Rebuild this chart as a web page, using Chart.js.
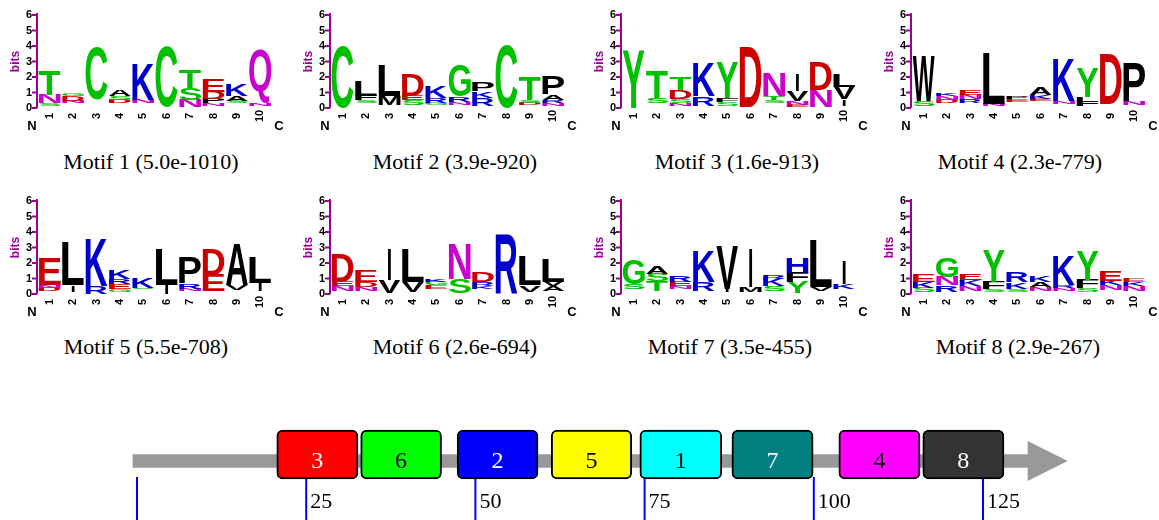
<!DOCTYPE html>
<html>
<head>
<meta charset="utf-8">
<script src="https://cdn.jsdelivr.net/npm/chart.js@4.4.0/dist/chart.umd.min.js"></script>
<style>
  body { margin: 0; background: #fff; width: 1159px; height: 520px; position: relative; overflow: hidden; }
  canvas { position: absolute; }
  .cap { position: absolute; width: 300px; line-height: 26px; text-align: center;
         font: 22px "Liberation Serif", "Times New Roman", serif; color: #000; }
</style>
</head>
<body>
<script>
// Datos de los logos: cada columna va de abajo hacia arriba, [letra, bits]
// ' ' = hueco sin letra visible
const positions = ['1', '2', '3', '4', '5', '6', '7', '8', '9', '10'];
const bitTicks = [0, 1, 2, 3, 4, 5, 6];

const motif1 = [
  [[' ', 0.15], ['S', 0.17], ['N', 0.54], ['T', 1.56]],
  [[' ', 0.3], ['N', 0.15], ['D', 0.3], ['G', 0.15]],
  [[' ', 0.53], ['C', 3.43]],
  [[' ', 0.3], ['D', 0.2], ['S', 0.25], ['A', 0.38]],
  [[' ', 0.3], ['N', 0.23], ['K', 2.37]],
  [[' ', 0.06], ['C', 3.94]],
  [[' ', 0.06], ['N', 0.47], ['S', 0.75], ['T', 1.18]],
  [[' ', 0.15], ['N', 0.15], ['P', 0.3], ['D', 0.45], ['E', 0.81]],
  [[' ', 0.3], ['S', 0.15], ['A', 0.3], ['K', 0.75]],
  [[' ', 0.1], ['N', 0.2], ['Q', 3.45]]
];
const motif2 = [
  [['C', 3.96]],
  [[' ', 0.35], ['S', 0.15], ['F', 0.3], ['L', 1.0]],
  [[' ', 0.2], ['M', 0.55], ['L', 1.97]],
  [[' ', 0.2], ['S', 0.3], ['E', 0.3], ['D', 1.4]],
  [[' ', 0.2], ['G', 0.15], ['R', 0.3], ['K', 0.78]],
  [[' ', 0.2], ['N', 0.2], ['R', 0.35], ['G', 2.03]],
  [[' ', 0.15], ['R', 0.49], ['K', 0.43], ['P', 0.6]],
  [['C', 4.1]],
  [[' ', 0.2], ['D', 0.15], ['S', 0.18], ['T', 1.47]],
  [[' ', 0.15], ['N', 0.2], ['R', 0.18], ['A', 0.33], ['P', 1.14]]
];
const motif3 = [
  [['Y', 3.75]],
  [[' ', 0.3], ['S', 0.3], ['T', 1.82]],
  [[' ', 0.1], ['N', 0.2], ['S', 0.28], ['D', 0.6], ['T', 0.82]],
  [[' ', 0.15], ['R', 0.6], ['K', 2.18]],
  [[' ', 0.15], ['S', 0.25], ['F', 0.24], ['Y', 2.29]],
  [[' ', 0.06], ['D', 3.84]],
  [[' ', 0.3], ['S', 0.2], ['T', 0.25], ['N', 1.5]],
  [[' ', 0.05], ['E', 0.15], ['N', 0.23], ['V', 0.64], ['I', 1.07]],
  [[' ', 0.06], ['N', 1.12], ['D', 1.82]],
  [[' ', 0.1], ['I', 0.45], ['V', 0.8], ['L', 0.79]]
];
const motif4 = [
  [[' ', 0.1], ['S', 0.32], ['W', 2.85]],
  [[' ', 0.3], ['D', 0.2], ['N', 0.25], ['K', 0.2]],
  [[' ', 0.3], ['R', 0.25], ['N', 0.3], ['E', 0.3]],
  [[' ', 0.1], ['N', 0.15], ['L', 3.28]],
  [[' ', 0.4], ['E', 0.15], ['P', 0.18]],
  [[' ', 0.45], ['E', 0.15], ['K', 0.25], ['A', 0.53]],
  [[' ', 0.25], ['N', 0.17], ['K', 2.73]],
  [[' ', 0.1], ['F', 0.3], ['L', 0.3], ['Y', 1.9]],
  [[' ', 0.25], ['D', 3.25]],
  [[' ', 0.2], ['N', 0.22], ['P', 2.53]]
];
const motif5 = [
  [[' ', 0.2], ['D', 0.2], ['N', 0.2], ['E', 1.73]],
  [[' ', 0.15], ['I', 0.45], ['L', 2.81]],
  [['R', 0.5], ['K', 3.13]],
  [[' ', 0.15], ['G', 0.2], ['E', 0.3], ['R', 0.35], ['K', 0.54]],
  [[' ', 0.3], ['S', 0.1], ['K', 0.65]],
  [['I', 0.6], ['L', 2.27]],
  [[' ', 0.2], ['N', 0.15], ['R', 0.36], ['P', 1.66]],
  [[' ', 0.17], ['E', 1.08], ['D', 1.62]],
  [[' ', 0.25], ['V', 0.35], ['A', 2.7]],
  [[' ', 0.17], ['I', 0.54], ['L', 1.62]]
];
const motif6 = [
  [[' ', 0.2], ['N', 0.3], ['E', 0.3], ['D', 1.8]],
  [[' ', 0.2], ['N', 0.25], ['D', 0.3], ['E', 0.75]],
  [[' ', 0.05], ['V', 0.85], ['I', 2.0]],
  [[' ', 0.15], ['V', 0.65], ['L', 2.1]],
  [[' ', 0.3], ['E', 0.25], ['G', 0.25], ['K', 0.2]],
  [[' ', 0.05], ['S', 0.95], ['N', 2.23]],
  [[' ', 0.3], ['K', 0.2], ['R', 0.25], ['D', 0.68]],
  [[' ', 0.05], ['R', 3.82]],
  [[' ', 0.15], ['V', 0.42], ['L', 1.93]],
  [[' ', 0.2], ['A', 0.3], ['V', 0.3], ['L', 1.48]]
];
const motif7 = [
  [[' ', 0.3], ['S', 0.34], ['G', 1.6]],
  [[' ', 0.2], ['T', 0.64], ['S', 0.48], ['A', 0.52]],
  [[' ', 0.3], ['N', 0.2], ['E', 0.3], ['R', 0.37]],
  [[' ', 0.2], ['R', 0.55], ['K', 2.03]],
  [[' ', 0.15], ['I', 0.15], ['V', 2.8]],
  [[' ', 0.1], ['M', 0.33], ['I', 2.53]],
  [[' ', 0.2], ['S', 0.3], ['K', 0.46], ['R', 0.21]],
  [[' ', 0.04], ['Y', 0.71], ['F', 0.63], ['H', 1.02]],
  [[' ', 0.2], ['V', 0.23], ['L', 3.07]],
  [[' ', 0.3], ['K', 0.34], ['I', 1.49]]
];
const motif8 = [
  [[' ', 0.1], ['S', 0.3], ['K', 0.4], ['E', 0.5]],
  [[' ', 0.15], ['R', 0.4], ['N', 0.55], ['G', 1.3]],
  [[' ', 0.2], ['N', 0.3], ['K', 0.4], ['E', 0.42]],
  [[' ', 0.1], ['S', 0.2], ['F', 0.5], ['Y', 2.05]],
  [[' ', 0.15], ['S', 0.2], ['K', 0.4], ['R', 0.67]],
  [[' ', 0.2], ['N', 0.25], ['A', 0.35], ['K', 0.4]],
  [[' ', 0.2], ['N', 0.2], ['R', 0.17], ['K', 1.93]],
  [[' ', 0.1], ['S', 0.26], ['F', 0.54], ['Y', 1.85]],
  [[' ', 0.25], ['N', 0.3], ['K', 0.3], ['E', 0.68]],
  [[' ', 0.2], ['N', 0.3], ['K', 0.25], ['E', 0.25]]
];
const motifs = [motif1, motif2, motif3, motif4, motif5, motif6, motif7, motif8];
const motifTitles = ['Motif 1 (5.0e-1010)', 'Motif 2 (3.9e-920)', 'Motif 3 (1.6e-913)', 'Motif 4 (2.3e-779)',
                     'Motif 5 (5.5e-708)', 'Motif 6 (2.6e-694)', 'Motif 7 (3.5e-455)', 'Motif 8 (2.9e-267)'];

// Datos del mapa de motivos
const mapTicks = [0, 25, 50, 75, 100, 125];
const boxLabels = ['3', '6', '2', '5', '1', '7', '4', '8'];
const boxStart = [20.65, 33.05, 47.3, 61.2, 74.3, 87.9, 103.7, 116.1];
const boxEnd = [32.65, 45.0, 59.25, 73.1, 86.4, 99.9, 115.7, 128.1];
const backbone = [-0.6, 131.6];
const arrowTip = 137.5;

const boxColors = ['#FF0000', '#00FF00', '#0000FF', '#FFFF00', '#00FFFF', '#008080', '#FF00FF', '#333333'];
const boxTextColors = ['#fff', '#000', '#fff', '#000', '#000', '#fff', '#000', '#fff'];

// Colores de aminoacidos
function letterColor(ch) {
  if ('GSTYC'.includes(ch)) return '#00C000';
  if ('KRH'.includes(ch)) return '#0000CC';
  if ('DE'.includes(ch)) return '#CC0000';
  if ('NQ'.includes(ch)) return '#CC00CC';
  return '#000000';
}

// Dibuja una letra estirada dentro de un rectangulo
function drawGlyph(ctx, ch, x, y, w, h) {
  if (ch === ' ' || h < 0.4 || w < 0.4) return;
  // la I es un trazo fino, no se estira a todo el ancho
  if (ch === 'I') {
    const nw = Math.max(2, w * 0.14);
    x = x + (w - nw) / 2;
    w = nw;
  }
  ctx.save();
  ctx.font = 'bold 100px "Liberation Sans", Arial, sans-serif';
  ctx.textAlign = 'left';
  ctx.textBaseline = 'alphabetic';
  const m = ctx.measureText(ch);
  const gw = m.actualBoundingBoxLeft + m.actualBoundingBoxRight;
  const gh = m.actualBoundingBoxAscent + m.actualBoundingBoxDescent;
  ctx.translate(x, y);
  ctx.scale(w / gw, h / gh);
  ctx.fillStyle = letterColor(ch);
  ctx.fillText(ch, m.actualBoundingBoxLeft, m.actualBoundingBoxAscent);
  ctx.restore();
}

const purple = '#990099';

const logoPlugin = {
  id: 'logo',
  afterDatasetsDraw(chart) {
    const ctx = chart.ctx;
    chart.data.datasets.forEach((ds, d) => {
      const meta = chart.getDatasetMeta(d);
      meta.data.forEach((bar, i) => {
        const p = bar.getProps(['x', 'y', 'base', 'width']);
        const top = Math.min(p.y, p.base);
        const h = Math.abs(p.base - p.y);
        drawGlyph(ctx, ds.letters[i], p.x - p.width / 2, top, p.width, h);
      });
    });
  },
  afterDraw(chart) {
    const ctx = chart.ctx;
    const a = chart.chartArea;
    const ys = chart.scales.y;
    const xs = chart.scales.x;
    ctx.save();
    // eje vertical
    ctx.strokeStyle = purple;
    ctx.lineWidth = 2;
    ctx.beginPath();
    ctx.moveTo(a.left - 1, a.top - 2);
    ctx.lineTo(a.left - 1, a.bottom);
    ctx.stroke();
    ctx.font = 'bold 11px "Liberation Sans", Arial, sans-serif';
    ctx.textAlign = 'right';
    ctx.textBaseline = 'middle';
    bitTicks.forEach(v => {
      const py = ys.getPixelForValue(v);
      ctx.beginPath();
      ctx.moveTo(a.left - 6, py);
      ctx.lineTo(a.left - 1, py);
      ctx.stroke();
      ctx.fillStyle = '#000';
      ctx.fillText(String(v), a.left - 6, py);
    });
    // etiqueta "bits"
    ctx.save();
    ctx.translate(a.left - 22, (a.top + a.bottom) / 2);
    ctx.rotate(-Math.PI / 2);
    ctx.textAlign = 'center';
    ctx.fillStyle = purple;
    ctx.font = 'bold 12px "Liberation Sans", Arial, sans-serif';
    ctx.fillText('bits', 0, 0);
    ctx.restore();
    // numeros de posicion (rotados)
    ctx.fillStyle = '#000';
    positions.forEach((lab, i) => {
      ctx.save();
      ctx.translate(xs.getPixelForValue(i), a.bottom + 8);
      ctx.rotate(-Math.PI / 2);
      ctx.textAlign = 'center';
      ctx.fillText(lab, 0, 0);
      ctx.restore();
    });
    ctx.font = 'bold 13px "Liberation Sans", Arial, sans-serif';
    ctx.textAlign = 'center';
    ctx.fillText('N', a.left - 6, a.bottom + 18);
    ctx.fillText('C', a.right + 7, a.bottom + 18);
    ctx.restore();
  }
};

const logoLeft = [0, 293, 584, 874];
const logoTop = [0, 186];
const capCenter = [151, 455, 737, 1020, 146, 455, 730, 1018];
const capY = [162, 347];

motifs.forEach((cols, m) => {
  const row = Math.floor(m / 4), col = m % 4;
  const canvas = document.createElement('canvas');
  canvas.width = 290;
  canvas.height = 135;
  canvas.style.left = logoLeft[col] + 'px';
  canvas.style.top = logoTop[row] + 'px';
  document.body.appendChild(canvas);

  const depth = Math.max(...cols.map(c => c.length));
  const datasets = [];
  for (let k = 0; k < depth; k++) {
    datasets.push({
      data: cols.map(c => c[k] ? c[k][1] : 0),
      letters: cols.map(c => c[k] ? c[k][0] : ' '),
      backgroundColor: 'rgba(0,0,0,0)',
      borderWidth: 0,
      categoryPercentage: 1,
      barPercentage: 0.94
    });
  }

  new Chart(canvas, {
    type: 'bar',
    data: { labels: positions, datasets: datasets },
    options: {
      responsive: false,
      animation: false,
      devicePixelRatio: 1,
      layout: { padding: { left: 38, right: 18, top: 15, bottom: 27 } },
      scales: {
        x: { stacked: true, display: false },
        y: { stacked: true, min: 0, max: 6, display: false }
      },
      plugins: { legend: { display: false }, tooltip: { enabled: false } }
    },
    plugins: [logoPlugin]
  });

  const cap = document.createElement('div');
  cap.className = 'cap';
  cap.textContent = motifTitles[m];
  cap.style.left = (capCenter[m] - 150) + 'px';
  cap.style.top = (capY[row] - 13) + 'px';
  document.body.appendChild(cap);
});

// Mapa de motivos sobre la secuencia
const mapPlugin = {
  id: 'map',
  beforeDatasetsDraw(chart) {
    const ctx = chart.ctx;
    const xs = chart.scales.x;
    const yc = chart.scales.y.getPixelForValue(0);
    ctx.save();
    ctx.strokeStyle = '#0000FF';
    ctx.lineWidth = 2;
    ctx.fillStyle = '#000';
    ctx.font = '22px "Liberation Serif", "Times New Roman", serif';
    ctx.textAlign = 'left';
    ctx.textBaseline = 'middle';
    mapTicks.forEach(t => {
      const px = xs.getPixelForValue(t);
      ctx.beginPath();
      ctx.moveTo(px, yc + 16);
      ctx.lineTo(px, chart.height);
      ctx.stroke();
      if (t > 0) ctx.fillText(String(t), px + 4, yc + 41);
    });
    // punta de flecha
    const x0 = xs.getPixelForValue(backbone[1]);
    const x1 = xs.getPixelForValue(arrowTip);
    ctx.fillStyle = '#999999';
    ctx.beginPath();
    ctx.moveTo(x0, yc - 20);
    ctx.lineTo(x1, yc);
    ctx.lineTo(x0, yc + 20);
    ctx.closePath();
    ctx.fill();
    ctx.restore();
  },
  beforeDatasetDraw(chart, args) {
    if (args.index === 0) {
      chart.ctx.save();
      chart.ctx.translate(0, -6.5);
    }
  },
  afterDatasetDraw(chart, args) {
    if (args.index === 0) chart.ctx.restore();
  },
  afterDatasetsDraw(chart) {
    const ctx = chart.ctx;
    const meta = chart.getDatasetMeta(0);
    ctx.save();
    ctx.font = '24px "Liberation Serif", "Times New Roman", serif';
    ctx.textAlign = 'center';
    ctx.textBaseline = 'middle';
    meta.data.forEach((bar, i) => {
      const p = bar.getProps(['x', 'y', 'base']);
      ctx.fillStyle = boxTextColors[i];
      ctx.fillText(boxLabels[i], (p.x + p.base) / 2, p.y + 1);
    });
    ctx.restore();
  }
};

const mapCanvas = document.createElement('canvas');
mapCanvas.width = 1159;
mapCanvas.height = 110;
mapCanvas.style.left = '0px';
mapCanvas.style.top = '410px';
document.body.appendChild(mapCanvas);

new Chart(mapCanvas, {
  type: 'bar',
  data: {
    labels: ['seq'],
    datasets: [
      {
        data: boxLabels.map((l, i) => ({ x: [boxStart[i], boxEnd[i]], y: 'seq' })),
        backgroundColor: boxColors,
        borderColor: '#000',
        borderWidth: 2,
        borderRadius: 6,
        borderSkipped: false,
        barThickness: 49,
        grouped: false,
        clip: false,
        order: 0
      },
      {
        data: [{ x: backbone, y: 'seq' }],
        backgroundColor: '#999999',
        borderWidth: 0,
        barThickness: 13,
        grouped: false,
        clip: false,
        order: 1
      }
    ]
  },
  options: {
    indexAxis: 'y',
    responsive: false,
    animation: false,
    devicePixelRatio: 1,
    layout: { padding: { left: 137, right: 176, top: 26, bottom: 34 } },
    scales: {
      x: { type: 'linear', min: 0, max: 125, display: false },
      y: { type: 'category', display: false }
    },
    plugins: { legend: { display: false }, tooltip: { enabled: false } }
  },
  plugins: [mapPlugin]
});
</script>
</body>
</html>
